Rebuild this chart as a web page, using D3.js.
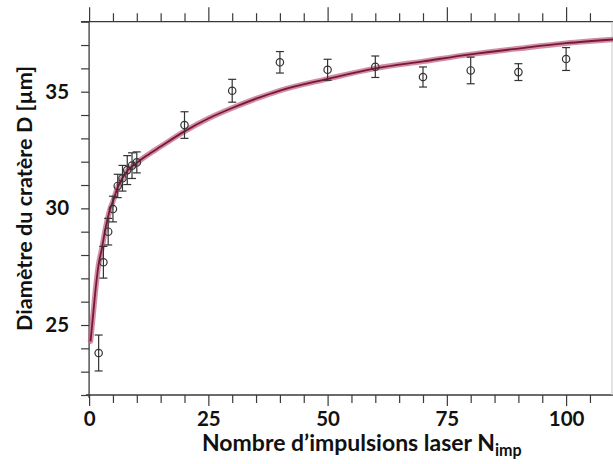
<!DOCTYPE html>
<html>
<head>
<meta charset="utf-8">
<script src="https://cdn.jsdelivr.net/npm/d3@7"></script>
<style>
  html, body { margin: 0; padding: 0; background: #fff; }
  svg { display: block; }
  text { font-family: Lato, "Open Sans", sans-serif; font-weight: 700; fill: #111; }
</style>
</head>
<body>
<svg id="chart" width="613" height="464"></svg>
<script>
// Measured points (N = number of laser pulses, D = crater diameter in µm)
const pulses   = [2, 3, 4, 5, 6, 7, 8, 9, 10, 20, 30, 40, 50, 60, 70, 80, 90, 100];
const diameter = [23.8, 27.69, 29.0, 29.97, 30.96, 31.29, 31.64, 31.83, 31.97, 33.57, 35.04, 36.26, 35.94, 36.07, 35.63, 35.91, 35.84, 36.40];
const errors   = [0.77, 0.68, 0.57, 0.55, 0.5, 0.55, 0.62, 0.55, 0.45, 0.57, 0.49, 0.46, 0.45, 0.46, 0.43, 0.57, 0.36, 0.49];

// Fitted curve
const fitN = [0.3, 0.8, 1.5, 2, 2.6, 3.5, 4.3, 5, 6, 7, 8, 10, 12, 15, 20, 25, 30, 35, 40, 50, 60, 70, 80, 90, 100, 110];
const fitD = [24.3, 25.35, 26.8, 27.6, 28.2, 29.2, 29.9, 30.3, 30.9, 31.3, 31.6, 31.95, 32.25, 32.65, 33.3, 33.85, 34.3, 34.7, 35.05, 35.55, 36.0, 36.3, 36.6, 36.85, 37.08, 37.24];

// Tick labels
const xTickLabels = [0, 25, 50, 75, 100];
const yTickLabels = [25, 30, 35];

const svg = d3.select("#chart");
const x = d3.scaleLinear().domain([0, 110]).range([89.1, 613.8]);
const y = d3.scaleLinear().domain([22, 38]).range([395, 21.7]);

const axisColor = "#3a3a3a";
const fontFam = 'Lato, "Open Sans", sans-serif';
const g = svg.append("g");

// Axis lines
g.append("line").attr("x1", 86).attr("x2", 613).attr("y1", y(22)).attr("y2", y(22))
  .attr("stroke", axisColor).attr("stroke-width", 1.3);
g.append("line").attr("x1", 81).attr("x2", 613).attr("y1", y(38)).attr("y2", y(38))
  .attr("stroke", axisColor).attr("stroke-width", 1.3);
g.append("line").attr("x1", x(0)).attr("x2", x(0)).attr("y1", y(38)).attr("y2", y(22) + 3)
  .attr("stroke", axisColor).attr("stroke-width", 1.3);
g.append("line").attr("x1", 612).attr("x2", 612).attr("y1", y(38)).attr("y2", y(22))
  .attr("stroke", "#c8c8c8").attr("stroke-width", 1);

const minorX = d3.range(0, 111, 5);
const minorY = d3.range(22, 38.01, 1);

// Bottom axis
const axBottom = d3.axisBottom(x).tickValues(minorX)
  .tickSize(8).tickFormat(d => xTickLabels.includes(d) ? d : "");
const gb = svg.append("g").attr("transform", `translate(0,${y(22)})`).call(axBottom);
gb.select(".domain").remove();
gb.selectAll(".tick line").attr("stroke", axisColor).attr("stroke-width", 1.2)
  .attr("y2", d => xTickLabels.includes(d) ? 11 : 8);
gb.selectAll(".tick text").attr("y", 31).attr("dy", 0).attr("font-size", 20.5)
  .style("font-family", fontFam).style("font-weight", 700).attr("fill", "#111");

// Top axis (no labels)
const axTop = d3.axisTop(x).tickValues(minorX).tickSize(8.5).tickFormat("");
const gt = svg.append("g").attr("transform", `translate(0,${y(38)})`).call(axTop);
gt.select(".domain").remove();
gt.selectAll(".tick line").attr("stroke", axisColor).attr("stroke-width", 1.2)
  .attr("y2", d => d % 25 === 0 ? -14.5 : -8.5);

// Left axis
const axLeft = d3.axisLeft(y).tickValues(minorY).tickSize(8)
  .tickFormat(d => yTickLabels.includes(d) ? d : "");
const gl = svg.append("g").attr("transform", `translate(${x(0)},0)`).call(axLeft);
gl.select(".domain").remove();
gl.selectAll(".tick line").attr("stroke", axisColor).attr("stroke-width", 1.2);
gl.selectAll(".tick text").attr("x", -20).attr("font-size", 20.5)
  .style("font-family", fontFam).style("font-weight", 700).attr("fill", "#111");

// Fit curve with band
const line = d3.line().x((d, i) => x(fitN[i])).y((d, i) => y(fitD[i])).curve(d3.curveMonotoneX);
svg.append("path").datum(fitD).attr("d", line).attr("fill", "none")
  .attr("stroke", "#c06a8a").attr("stroke-opacity", 0.75).attr("stroke-width", 5.5).attr("stroke-linecap", "round");
svg.append("path").datum(fitD).attr("d", line).attr("fill", "none")
  .attr("stroke", "#7a1636").attr("stroke-width", 1.8);

// Error bars and markers
const pts = svg.append("g");
pulses.forEach((n, i) => {
  const cx = x(n), lo = y(diameter[i] - errors[i]), hi = y(diameter[i] + errors[i]);
  pts.append("line").attr("x1", cx).attr("x2", cx).attr("y1", lo).attr("y2", hi)
    .attr("stroke", "#333").attr("stroke-width", 1.2);
  pts.append("line").attr("x1", cx - 4).attr("x2", cx + 4).attr("y1", lo).attr("y2", lo)
    .attr("stroke", "#333").attr("stroke-width", 1.2);
  pts.append("line").attr("x1", cx - 4).attr("x2", cx + 4).attr("y1", hi).attr("y2", hi)
    .attr("stroke", "#333").attr("stroke-width", 1.2);
  pts.append("circle").attr("cx", cx).attr("cy", y(diameter[i])).attr("r", 3.7)
    .attr("fill", "none").attr("stroke", "#333").attr("stroke-width", 1.2);
});

// Axis titles (font size fitted to the reference's text widths)
const xt = svg.append("text").attr("x", 202).attr("y", 451).attr("font-size", 20);
const xMain = xt.append("tspan").text("Nombre d’impulsions laser N");
const xSub = xt.append("tspan").attr("font-size", 14).attr("dy", 5).text("imp");
const xLen = xMain.node().getComputedTextLength();
const xFs = Math.max(17, Math.min(23, 20 * 320 / xLen));
xt.attr("font-size", xFs);
xSub.attr("font-size", xFs * 0.7);

const yt = svg.append("text").attr("transform", "translate(32,198.5) rotate(-90)")
  .attr("text-anchor", "middle").attr("font-size", 20).text("Diamètre du cratère D [µm]");
const yLen = yt.node().getComputedTextLength();
yt.attr("font-size", Math.max(17, Math.min(23, 20 * 265 / yLen)));
</script>
</body>
</html>
